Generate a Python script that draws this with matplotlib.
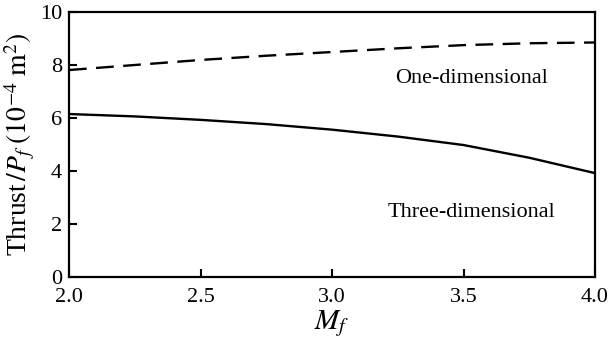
import matplotlib
matplotlib.use("Agg")
import matplotlib.pyplot as plt

plt.rcParams['font.family'] = ['Liberation Serif', 'DejaVu Serif']
plt.rcParams['mathtext.fontset'] = 'stix'

# values
mach = [2.0, 2.25, 2.5, 2.75, 3.0, 3.25, 3.5, 3.75, 4.0]
one_dim = [7.81, 8.0, 8.19, 8.35, 8.49, 8.63, 8.75, 8.82, 8.85]
three_dim = [6.15, 6.06, 5.93, 5.77, 5.56, 5.30, 4.98, 4.50, 3.92]

fig = plt.figure(figsize=(6.08, 3.41), dpi=100)
ax = fig.add_axes([69/608, 64/341, 526/608, 265/341])

ax.plot(mach, one_dim, color='black', lw=1.7, dashes=(7.5, 4))
ax.plot(mach, three_dim, color='black', lw=1.7)

ax.text(3.53, 7.5, 'One-dimensional', fontsize=16, ha='center', va='center')
ax.text(3.53, 2.45, 'Three-dimensional', fontsize=16, ha='center', va='center')

ax.set_xlim(2.0, 4.0)
ax.set_ylim(0, 10)
ax.set_xticks([2.0, 2.5, 3.0, 3.5, 4.0])
ax.set_xticklabels(['2.0', '2.5', '3.0', '3.5', '4.0'])
ax.set_yticks([0, 2, 4, 6, 8, 10])
ax.tick_params(direction='in', length=6, width=1.5, labelsize=16)
ax.tick_params(axis='x', pad=8)
ax.tick_params(axis='y', pad=5)
for s in ax.spines.values():
    s.set_linewidth(1.6)

ax.set_xlabel('$M_f$', fontsize=21, labelpad=1)
ax.set_ylabel('Thrust$\\,/P_f\\;(10^{-4}\\ \\mathrm{m}^2)$', fontsize=20, labelpad=2)

fig.savefig('out.png', dpi=100)
